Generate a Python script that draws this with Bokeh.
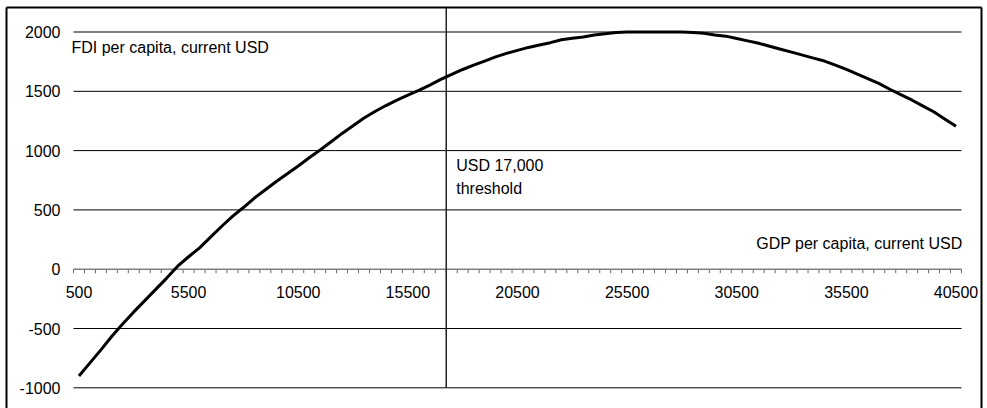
from bokeh.plotting import figure
from bokeh.models import Range1d, LinearAxis, FixedTicker, Label, ColumnDataSource
from bokeh.embed import file_html
from bokeh.resources import INLINE

# ---- data -------------------------------------------------------------
gdp_per_capita = [
    500, 1000, 1500, 2000, 2500, 3000, 3500, 4000, 4500, 5000,
    5500, 6000, 6500, 7000, 7500, 8000, 8500, 9000, 9500, 10000,
    10500, 11000, 11500, 12000, 12500, 13000, 13500, 14000, 14500, 15000,
    15500, 16000, 16500, 17000, 17500, 18000, 18500, 19000, 19500, 20000,
    20500, 21000, 21500, 22000, 22500, 23000, 23500, 24000, 24500, 25000,
    25500, 26000, 26500, 27000, 27500, 28000, 28500, 29000, 29500, 30000,
    30500, 31000, 31500, 32000, 32500, 33000, 33500, 34000, 34500, 35000,
    35500, 36000, 36500, 37000, 37500, 38000, 38500, 39000, 39500, 40000,
    40500,
]
fdi_per_capita = [
    -900, -790, -680, -565, -460, -360, -265, -170, -75, 25,
    105, 180, 270, 360, 445, 520, 600, 670, 740, 805,
    870, 940, 1005, 1075, 1145, 1210, 1275, 1330, 1380, 1425,
    1467, 1508, 1552, 1600, 1643, 1684, 1720, 1755, 1790, 1820,
    1845, 1870, 1890, 1910, 1935, 1948, 1958, 1975, 1985, 1995,
    2000, 2000, 2000, 2000, 2000, 2000, 1995, 1990, 1975, 1965,
    1945, 1925, 1905, 1880, 1855, 1830, 1805, 1780, 1755, 1720,
    1685, 1645, 1605, 1565, 1515, 1470, 1425, 1375, 1325, 1265,
    1205,
]
x_tick_values = [500, 5500, 10500, 15500, 20500, 25500, 30500, 35500, 40500]
x_tick_labels = ["500", "5500", "10500", "15500", "20500", "25500", "30500", "35500", "40500"]
y_tick_values = [-1000, -500, 0, 500, 1000, 1500, 2000]
y_tick_labels = ["-1000", "-500", "0", "500", "1000", "1500", "2000"]
threshold_gdp = 17000
category_step = 500

# ---- geometry (pixels) --------------------------------------------------
W, H = 987, 408
CAT_L_PX, CAT_R_PX = 73, 961          # plot area in x
ZERO_PX, PX_PER_UNIT = 268.7, 0.1186  # value scale
BOX_L, BOX_R, BOX_T = 6, 981, 7       # outer chart box (line centres)
TICK_LEN = 4

FONT = "Liberation Sans"
FS = "16px"

cat_lo = gdp_per_capita[0] - category_step / 2
cat_hi = gdp_per_capita[-1] + category_step / 2
xscale = (CAT_R_PX - CAT_L_PX) / (cat_hi - cat_lo)
x_start = cat_lo - CAT_L_PX / xscale
x_end = cat_hi + (W - CAT_R_PX) / xscale
y_end = ZERO_PX / PX_PER_UNIT
y_start = -(H - ZERO_PX) / PX_PER_UNIT


def px_x(px):
    return x_start + px / xscale


def px_y(py):
    return (ZERO_PX - py) / PX_PER_UNIT


p = figure(
    width=W, height=H,
    output_backend="svg", toolbar_location=None,
    x_range=Range1d(x_start, x_end), y_range=Range1d(y_start, y_end),
    x_axis_location=None, y_axis_location=None,
    min_border_left=0, min_border_right=0, min_border_top=0, min_border_bottom=0,
)
p.outline_line_color = None
p.background_fill_color = "white"
p.border_fill_color = "white"
p.grid.visible = False

# outer chart box (left, top, right sides; bottom lies below the picture)
bl, br, bt, bb = px_x(BOX_L), px_x(BOX_R), px_y(BOX_T), px_y(H + 10)
p.segment(x0=[bl, bl, br], y0=[bb, bt, bt], x1=[bl, br, br], y1=[bt, bt, bb],
          line_color="black", line_width=2, level="overlay")

# horizontal gridlines across the category span
grid_vals = [t for t in y_tick_values if t != 0]
grid_src = ColumnDataSource(dict(x0=[cat_lo] * len(grid_vals), x1=[cat_hi] * len(grid_vals),
                                 y=grid_vals))
p.segment(x0="x0", y0="y", x1="x1", y1="y", source=grid_src,
          line_color="black", line_width=1)

# category axis line at 0 with tick marks at category boundaries
boundaries = [g - category_step / 2 for g in gdp_per_capita] + [cat_hi]
tick_src = ColumnDataSource(dict(x=boundaries, y0=[0] * len(boundaries),
                                 y1=[-TICK_LEN / PX_PER_UNIT] * len(boundaries)))
p.segment(x0="x", y0="y0", x1="x", y1="y1", source=tick_src,
          line_color="#666666", line_width=1)
p.segment(x0=[cat_lo], y0=[0], x1=[cat_hi], y1=[0],
          line_color="#7f7f7f", line_width=1.5)

# value axis: labels only
yax = LinearAxis(
    fixed_location=cat_lo,
    ticker=FixedTicker(ticks=y_tick_values),
    major_label_overrides={v: l for v, l in zip(y_tick_values, y_tick_labels)},
    axis_line_color=None, major_tick_line_color=None, minor_tick_line_color=None,
    major_tick_out=0, major_tick_in=0,
    major_label_standoff=13,
    major_label_text_font=FONT, major_label_text_font_size=FS,
    major_label_text_color="black",
)
p.add_layout(yax, "left")

# category labels
label_axis = LinearAxis(
    fixed_location=0,
    ticker=FixedTicker(ticks=x_tick_values),
    major_label_overrides={v: l for v, l in zip(x_tick_values, x_tick_labels)},
    axis_line_color=None, major_tick_line_color=None, minor_tick_line_color=None,
    major_tick_out=0, major_tick_in=0,
    major_label_standoff=17,
    major_label_text_font=FONT, major_label_text_font_size=FS,
    major_label_text_color="black",
)
p.add_layout(label_axis, "below")

# threshold line (drawn at the category boundary after USD 17,000)
thr_x = threshold_gdp + category_step / 2
p.segment(x0=[thr_x], y0=[y_tick_values[0]], x1=[thr_x], y1=[px_y(BOX_T)],
          line_color="#222222", line_width=1.5)

# curve
p.line(gdp_per_capita, fdi_per_capita, line_color="black", line_width=3,
       line_join="round", level="overlay")


def lab(x, y, text, align="left", x_offset=0):
    p.add_layout(Label(x=x, y=y, text=text, text_align=align, x_offset=x_offset,
                       text_baseline="alphabetic", text_font=FONT,
                       text_font_size=FS, text_color="black"))


lab(cat_lo, 1872, "FDI per capita, current USD", x_offset=-2)
lab(thr_x, 874, "USD 17,000", x_offset=10)
lab(thr_x, 680, "threshold", x_offset=10)
lab(cat_hi, 217, "GDP per capita, current USD", align="right", x_offset=1)

open("out.html", "w").write(file_html(p, INLINE))
